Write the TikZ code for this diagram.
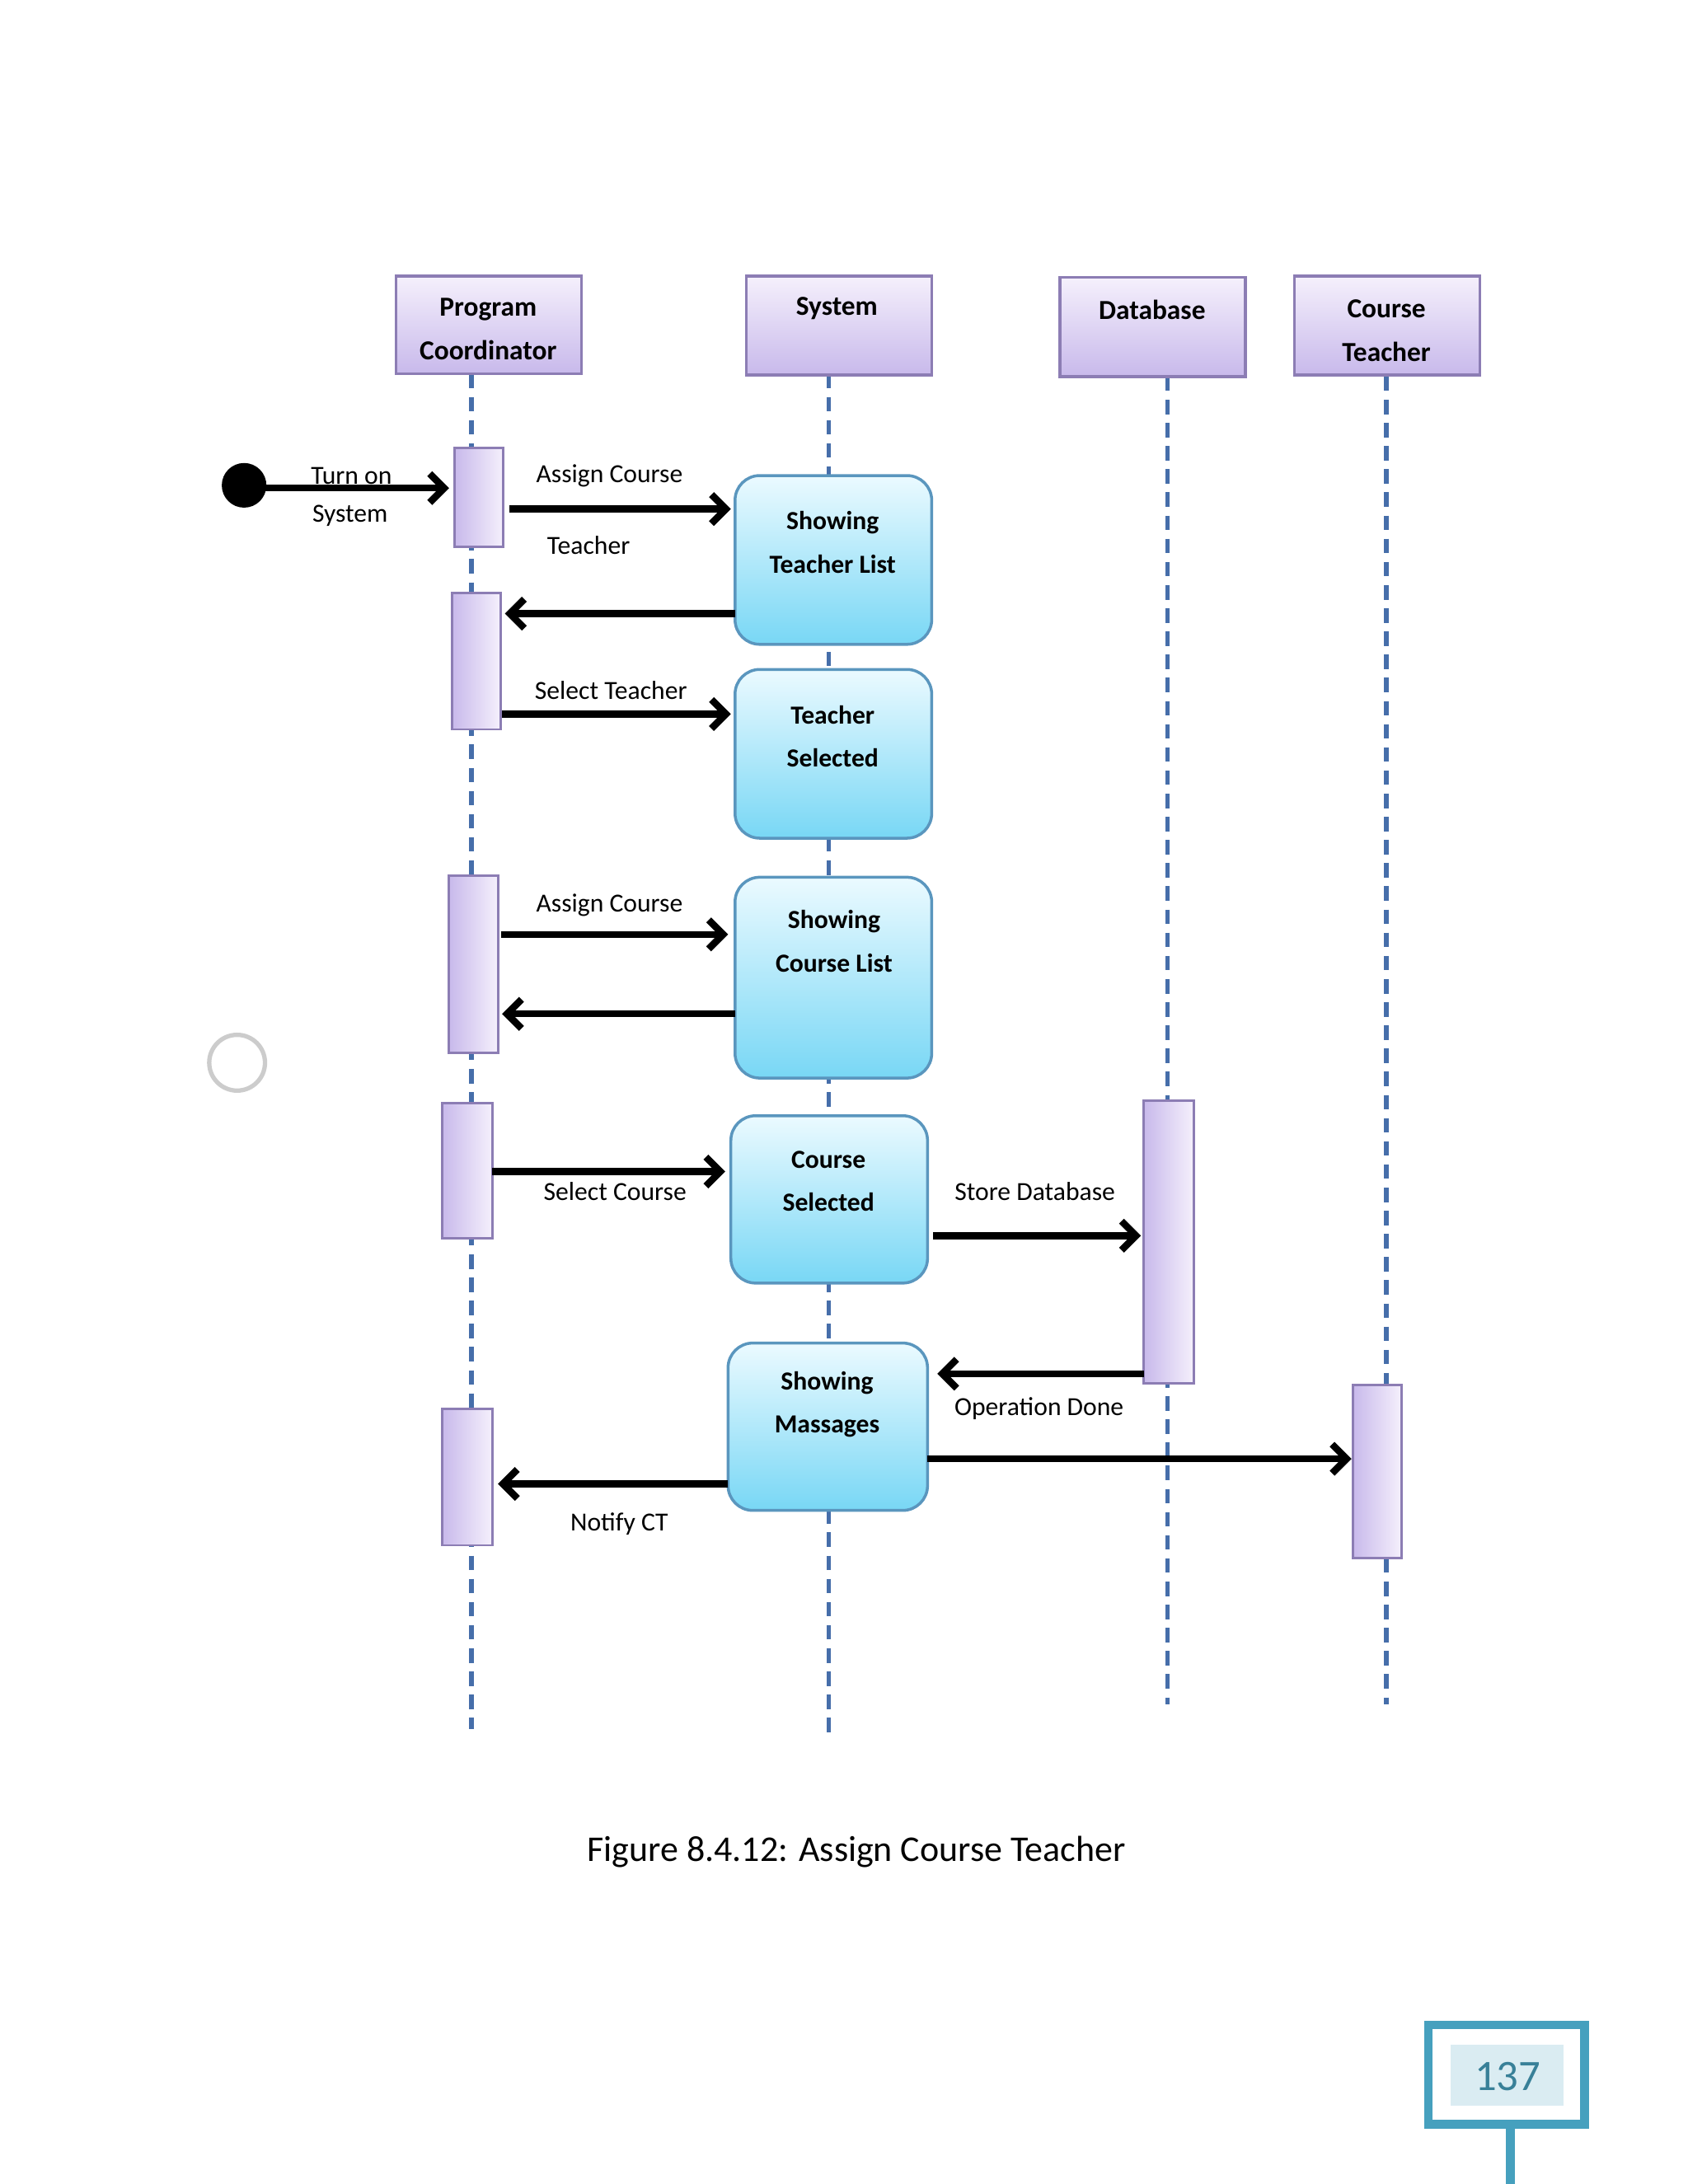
\documentclass[tikz,border=0pt]{standalone}
\usepackage{fontspec}
\setmainfont{Carlito}
\usetikzlibrary{arrows.meta}
\definecolor{hdrtop}{RGB}{245,240,252}
\definecolor{hdrbot}{RGB}{200,185,235}
\definecolor{hdrline}{RGB}{140,125,180}
\definecolor{boxtop}{RGB}{235,250,255}
\definecolor{boxbot}{RGB}{120,215,245}
\definecolor{boxline}{RGB}{90,150,190}
\definecolor{life}{RGB}{70,110,170}
\definecolor{teal}{RGB}{70,160,190}
\begin{document}
\begin{tikzpicture}[x=0.016926cm,y=-0.016926cm,
 hdr/.style={draw=hdrline,line width=1pt,top color=hdrtop,bottom color=hdrbot},
 ht/.style={align=center,font=\bfseries\fontsize{9.5}{15}\selectfont},
 act/.style={draw=hdrline,line width=0.8pt,left color=hdrbot,right color=hdrtop},
 st/.style={draw=boxline,line width=1pt,rounded corners=0.3cm,top color=boxtop,bottom color=boxbot},
 lf/.style={draw=life,dashed,dash pattern=on 5pt off 3pt,line width=1.5pt},
 msg/.style={line width=2.4pt,-{Straight Barb[length=5pt,width=10pt,line width=2.4pt]}},
 lbl/.style={font=\fontsize{9}{11}\selectfont},
 stt/.style={font=\bfseries\fontsize{9}{15}\selectfont,align=center}]
\useasboundingbox (0,0) rectangle (1210,1566);
\draw[lf] (338,268)--(338,1240);
\draw[lf] (594,268)--(594,1242);
\draw[lf] (837,270)--(837,1222);
\draw[lf] (994,270)--(994,1222);
\draw[hdr] (284,198) rectangle (417,268);
\node[ht] (pc) at (350,236) {Program\\Coordinator};
\draw[hdr] (535,198) rectangle (668,269);
\node[ht] (sys) at (600,221) {System};
\draw[hdr] (760,199) rectangle (893,270);
\node[ht] (db) at (826,222) {Database};
\draw[hdr] (928,198) rectangle (1061,269);
\node[ht] (ct) at (994,237) {Course\\Teacher};
\draw[act] (326,321) rectangle (361,392);
\draw[act] (324,425) rectangle (359,523);
\draw[act] (322,628) rectangle (357,755);
\draw[act] (317,791) rectangle (353,888);
\draw[act] (820,789) rectangle (856,992);
\draw[act] (970,993) rectangle (1005,1117);
\draw[act] (317,1010) rectangle (353,1108);
\draw[st] (527,341) rectangle (668,462);
\node[stt] (s1) at (597,389) {Showing\\Teacher List};
\draw[st] (527,480) rectangle (668,601);
\node[stt] (s2) at (597,528) {Teacher\\Selected};
\draw[st] (527,629) rectangle (668,773);
\node[stt] (s3) at (598,675) {Showing\\Course List};
\draw[st] (524,800) rectangle (665,920);
\node[stt] (s4) at (594,847) {Course\\Selected};
\draw[st] (522,963) rectangle (665,1083);
\node[stt] (s5) at (593,1007) {Showing\\Massages};
\fill (175,348) circle (16);
\draw[gray!40,line width=1.5pt] (170,762) circle (20);
\coordinate (a0) at (185,350); \coordinate (a1) at (322,350);
\draw[msg] (a0)--(a1);
\node[lbl] at (252,341) {Turn on};
\node[lbl] at (251,370) {System};
\coordinate (b0) at (365,365); \coordinate (b1) at (524,365);
\draw[msg] (b0)--(b1);
\node[lbl] at (437,341) {Assign Course};
\node[lbl] at (422,391) {Teacher};
\coordinate (c0) at (527,440); \coordinate (c1) at (362,440);
\draw[msg] (c0)--(c1);
\coordinate (d0) at (360,512); \coordinate (d1) at (524,512);
\draw[msg] (d0)--(d1);
\node[lbl] at (438,495) {Select Teacher};
\coordinate (e0) at (359,670); \coordinate (e1) at (522,670);
\draw[msg] (e0)--(e1);
\node[lbl] at (437,649) {Assign Course};
\coordinate (f0) at (527,727); \coordinate (f1) at (360,727);
\draw[msg] (f0)--(f1);
\coordinate (g0) at (353,840); \coordinate (g1) at (520,840);
\draw[msg] (g0)--(g1);
\node[lbl] at (441,854) {Select Course};
\coordinate (h0) at (669,886); \coordinate (h1) at (818,886);
\draw[msg] (h0)--(h1);
\node[lbl] at (742,854) {Store Database};
\coordinate (i0) at (820,985); \coordinate (i1) at (672,985);
\draw[msg] (i0)--(i1);
\node[lbl] at (745,1010) {Operation Done};
\coordinate (j0) at (665,1046); \coordinate (j1) at (969,1046);
\draw[msg] (j0)--(j1);
\coordinate (k0) at (522,1064); \coordinate (k1) at (357,1064);
\draw[msg] (k0)--(k1);
\node[lbl] at (444,1093) {Notify CT};
\node[font=\fontsize{12.5}{15}\selectfont] (cap) at (614,1328) {Figure 8.4.12: Assign Course Teacher};
\draw[teal,line width=3pt] (1024,1452) rectangle (1136,1523);
\fill[teal!20] (1040,1466) rectangle (1121,1510);
\node[teal!80!black,font=\fontsize{15}{18}\selectfont] (pg) at (1081,1489) {137};
\draw[teal,line width=3pt] (1083,1523)--(1083,1566);
\end{tikzpicture}
\end{document}
